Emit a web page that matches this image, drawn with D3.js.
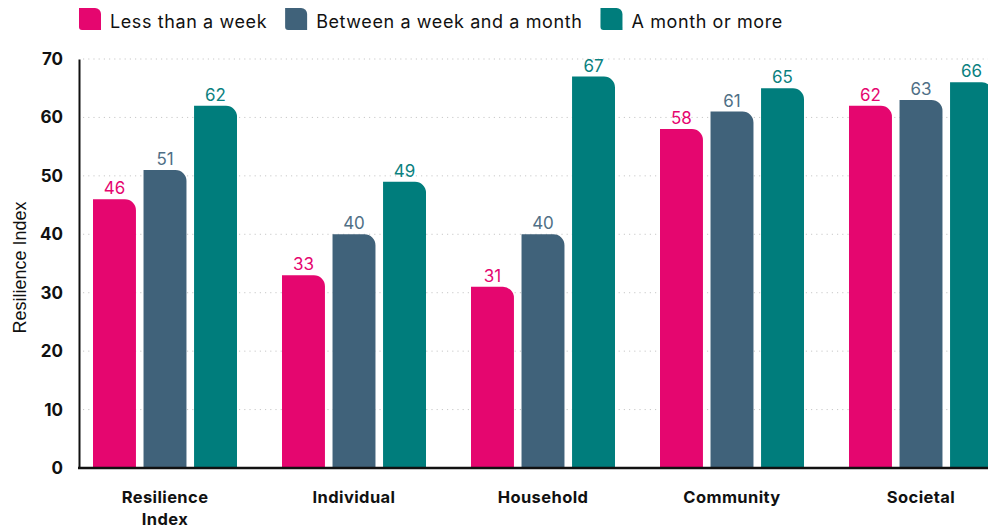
<!DOCTYPE html>
<html>
<head>
<meta charset="utf-8">
<script src="https://cdn.jsdelivr.net/npm/d3@7"></script>
<style>
  html, body { margin: 0; padding: 0; background: #fff; overflow: hidden; }
  svg { display: block; font-family: Inter, "DejaVu Sans", sans-serif; }
</style>
</head>
<body>
<svg id="chart" width="988" height="529"></svg>
<script>
// Resilience index by duration of disruption
const categories = ["Resilience Index", "Individual", "Household", "Community", "Societal"];
const seriesNames = ["Less than a week", "Between a week and a month", "A month or more"];
const lessThanWeek = [46, 33, 31, 58, 62];
const weekToMonth = [51, 40, 40, 61, 63];
const monthOrMore = [62, 49, 67, 65, 66];
const yTicks = [0, 10, 20, 30, 40, 50, 60, 70];
const yTitle = "Resilience Index";

const seriesValues = [lessThanWeek, weekToMonth, monthOrMore];
const barColors = ["#e5066f", "#40627a", "#007d7c"];
const labelColors = ["#e5066f", "#4f6f86", "#0b8180"];

const svg = d3.select("#chart");
const margin = { top: 59, bottom: 61, left: 79 };
const height = 529;
const plotBottom = height - margin.bottom;

const y = d3.scaleLinear().domain([0, 70]).range([plotBottom, margin.top]);

const x0 = d3.scaleBand()
  .domain(categories)
  .range([70.5, 70.5 + 5 * 189])
  .paddingInner(45 / 189)
  .paddingOuter(45 / 378);

const x1 = d3.scaleBand()
  .domain(d3.range(seriesNames.length))
  .range([0, x0.bandwidth()])
  .paddingInner(0.15)
  .paddingOuter(0);

// dotted gridlines
svg.append("g")
  .selectAll("line")
  .data(yTicks.filter(d => d > 0))
  .join("line")
  .attr("x1", margin.left + 4)
  .attr("x2", 988)
  .attr("y1", d => y(d))
  .attr("y2", d => y(d))
  .attr("stroke", "#c8c8c8")
  .attr("stroke-width", 1)
  .attr("stroke-dasharray", "1.2,4");

// y axis
const yAxis = svg.append("g")
  .attr("transform", `translate(${margin.left},0)`)
  .call(d3.axisLeft(y).tickValues(yTicks).tickSize(0).tickPadding(16).tickFormat(d3.format("d")));
yAxis.select(".domain").attr("stroke", "#111").attr("stroke-width", 2);
yAxis.selectAll("text")
  .attr("font-family", "Inter, sans-serif")
  .attr("font-size", 17)
  .attr("font-weight", 700)
  .attr("fill", "#111");

svg.append("text")
  .attr("transform", `translate(26,${(margin.top + plotBottom) / 2 + 4}) rotate(-90)`)
  .attr("text-anchor", "middle")
  .attr("font-family", "'Liberation Sans', Arial, sans-serif")
  .attr("font-size", 18)
  .attr("fill", "#111")
  .text(yTitle);

// bars with a rounded top-right corner
function barPath(x, w, yTop, yBase) {
  const r = Math.min(11, w / 2, yBase - yTop);
  return `M${x},${yBase}V${yTop}H${x + w - r}A${r},${r} 0 0 1 ${x + w},${yTop + r}V${yBase}Z`;
}

const groups = svg.append("g")
  .selectAll("g")
  .data(categories)
  .join("g")
  .attr("transform", d => `translate(${x0(d)},0)`);

groups.selectAll("path")
  .data((d, ci) => seriesValues.map((vals, si) => ({ si, v: vals[ci] })))
  .join("path")
  .attr("d", d => barPath(x1(d.si), x1.bandwidth(), y(d.v), plotBottom))
  .attr("fill", d => barColors[d.si]);

groups.selectAll("text.value")
  .data((d, ci) => seriesValues.map((vals, si) => ({ si, v: vals[ci] })))
  .join("text")
  .attr("class", "value")
  .attr("x", d => x1(d.si) + x1.bandwidth() / 2)
  .attr("y", d => y(d.v) - 5)
  .attr("text-anchor", "middle")
  .attr("font-size", 17)
  .attr("fill", d => labelColors[d.si])
  .text(d => d.v);

// x axis
const xAxis = svg.append("g")
  .attr("transform", `translate(0,${plotBottom})`)
  .call(d3.axisBottom(x0).tickSize(0).tickPadding(0));
xAxis.select(".domain").remove();
svg.append("line")
  .attr("x1", margin.left - 1).attr("x2", 988)
  .attr("y1", plotBottom).attr("y2", plotBottom)
  .attr("stroke", "#111").attr("stroke-width", 2.5);

xAxis.selectAll(".tick text").remove();
xAxis.selectAll(".tick").each(function (d) {
  const words = d === "Resilience Index" ? ["Resilience", "Index"] : [d];
  const t = d3.select(this).append("text")
    .attr("text-anchor", "middle")
    .attr("font-family", "Inter, sans-serif")
    .attr("font-size", 16.5)
    .attr("font-weight", 700)
    .attr("letter-spacing", 0.4)
    .attr("fill", "#111");
  words.forEach((w, i) => {
    t.append("tspan").attr("x", 0).attr("y", 35 + i * 22).text(w);
  });
});

// legend
const legend = svg.append("g").attr("transform", "translate(79,8)");
let lx = 0;
seriesNames.forEach((name, i) => {
  const g = legend.append("g").attr("transform", `translate(${lx},0)`);
  g.append("path")
    .attr("d", "M0,0H16A6,6 0 0 1 22,6V22H3A3,3 0 0 1 0,19Z")
    .attr("fill", barColors[i]);
  const t = g.append("text")
    .attr("x", 31)
    .attr("y", 19.5)
    .attr("font-size", 18)
    .attr("letter-spacing", 0.6)
    .attr("fill", "#111")
    .text(name);
  lx += 31 + t.node().getComputedTextLength() + 18;
});
</script>
</body>
</html>
